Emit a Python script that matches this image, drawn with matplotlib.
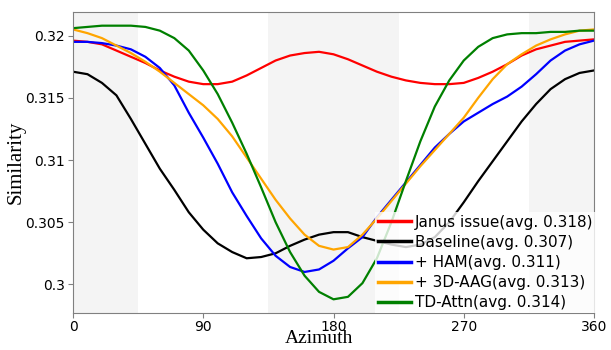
import matplotlib
matplotlib.use("Agg")
import matplotlib.pyplot as plt

azimuth = list(range(0, 361, 10))

janus = [0.3196, 0.3195, 0.3193, 0.3188, 0.3183, 0.3178, 0.3172, 0.3167, 0.3163, 0.3161,
         0.3161, 0.3163, 0.3168, 0.3174, 0.3180, 0.3184, 0.3186, 0.3187, 0.3185, 0.3181,
         0.3176, 0.3171, 0.3167, 0.3164, 0.3162, 0.3161, 0.3161, 0.3162, 0.3166, 0.3171,
         0.3177, 0.3184, 0.3189, 0.3192, 0.3195, 0.3196, 0.3197]
baseline = [0.3171, 0.3169, 0.3162, 0.3152, 0.3133, 0.3113, 0.3093, 0.3076, 0.3058, 0.3044,
            0.3033, 0.3026, 0.3021, 0.3022, 0.3025, 0.3031, 0.3036, 0.3040, 0.3042, 0.3042,
            0.3038, 0.3035, 0.3032, 0.3030, 0.3032, 0.3038, 0.3050, 0.3066, 0.3083, 0.3099,
            0.3115, 0.3131, 0.3145, 0.3157, 0.3165, 0.3170, 0.3172]
ham = [0.3195, 0.3195, 0.3194, 0.3192, 0.3189, 0.3183, 0.3174, 0.3160, 0.3138, 0.3118,
       0.3097, 0.3074, 0.3055, 0.3037, 0.3023, 0.3014, 0.3010, 0.3012, 0.3019, 0.3029,
       0.3038, 0.3054, 0.3068, 0.3082, 0.3096, 0.3110, 0.3121, 0.3131, 0.3138, 0.3145,
       0.3151, 0.3159, 0.3169, 0.3180, 0.3188, 0.3193, 0.3196]
aag = [0.3205, 0.3202, 0.3198, 0.3192, 0.3186, 0.3179, 0.3171, 0.3162, 0.3153, 0.3144,
       0.3133, 0.3119, 0.3102, 0.3085, 0.3068, 0.3053, 0.3040, 0.3031, 0.3028, 0.3030,
       0.3040, 0.3053, 0.3067, 0.3081, 0.3095, 0.3108, 0.3121, 0.3134, 0.3150, 0.3165,
       0.3177, 0.3185, 0.3192, 0.3197, 0.3201, 0.3204, 0.3205]
tdattn = [0.3206, 0.3207, 0.3208, 0.3208, 0.3208, 0.3207, 0.3204, 0.3198, 0.3188, 0.3172,
          0.3153, 0.3130, 0.3105, 0.3078, 0.3050, 0.3026, 0.3007, 0.2994, 0.2988, 0.2990,
          0.3001, 0.3021, 0.3050, 0.3083, 0.3115, 0.3143, 0.3164, 0.3180, 0.3191, 0.3198,
          0.3201, 0.3202, 0.3202, 0.3203, 0.3203, 0.3204, 0.3204]

labels = ["Janus issue(avg. 0.318)", "Baseline(avg. 0.307)", "+ HAM(avg. 0.311)",
          "+ 3D-AAG(avg. 0.313)", "TD-Attn(avg. 0.314)"]
colors = ["red", "black", "blue", "orange", "green"]
series = [janus, baseline, ham, aag, tdattn]

shaded = [(0, 45), (135, 225), (315, 360)]
xticks = [0, 90, 180, 270, 360]
yticks = [0.30, 0.305, 0.31, 0.315, 0.32]
yticklabels = ["0.3", "0.305", "0.31", "0.315", "0.32"]

fig = plt.figure(figsize=(6.11, 3.5), dpi=100)
ax = fig.add_axes([73/611, 1-313/350, (594-73)/611, (313-12)/350])

for a, b in shaded:
    ax.axvspan(a, b, color="#f4f4f4", zorder=0, lw=0)

for ys, c, lab in zip(series, colors, labels):
    ax.plot(azimuth, ys, color=c, lw=1.6, label=lab, solid_joinstyle="round")

ax.set_xlim(0, 360)
ax.set_ylim(0.2977, 0.3219)
ax.set_xticks(xticks)
ax.set_yticks(yticks)
ax.set_yticklabels(yticklabels)
ax.tick_params(labelsize=10, color="#808080", length=3.5, pad=2.5)
ax.tick_params(axis="x", pad=1.5)
for s in ax.spines.values():
    s.set_color("#808080")

ax.set_xlabel("Azimuth", family="Liberation Serif", fontsize=14)
ax.xaxis.set_label_coords(0.472, -0.058)
ax.set_ylabel("Similarity", family="Liberation Serif", fontsize=15, labelpad=0)

leg = ax.legend(loc="lower right", bbox_to_anchor=(1.005, 0.0), borderaxespad=0,
                fontsize=11, labelspacing=0.33, handlelength=2.2, handletextpad=0.25,
                borderpad=0.2, fancybox=False, framealpha=0.8, edgecolor="none")
for h in leg.get_lines():
    h.set_linewidth(2.5)

fig.savefig("out.png", dpi=100)
